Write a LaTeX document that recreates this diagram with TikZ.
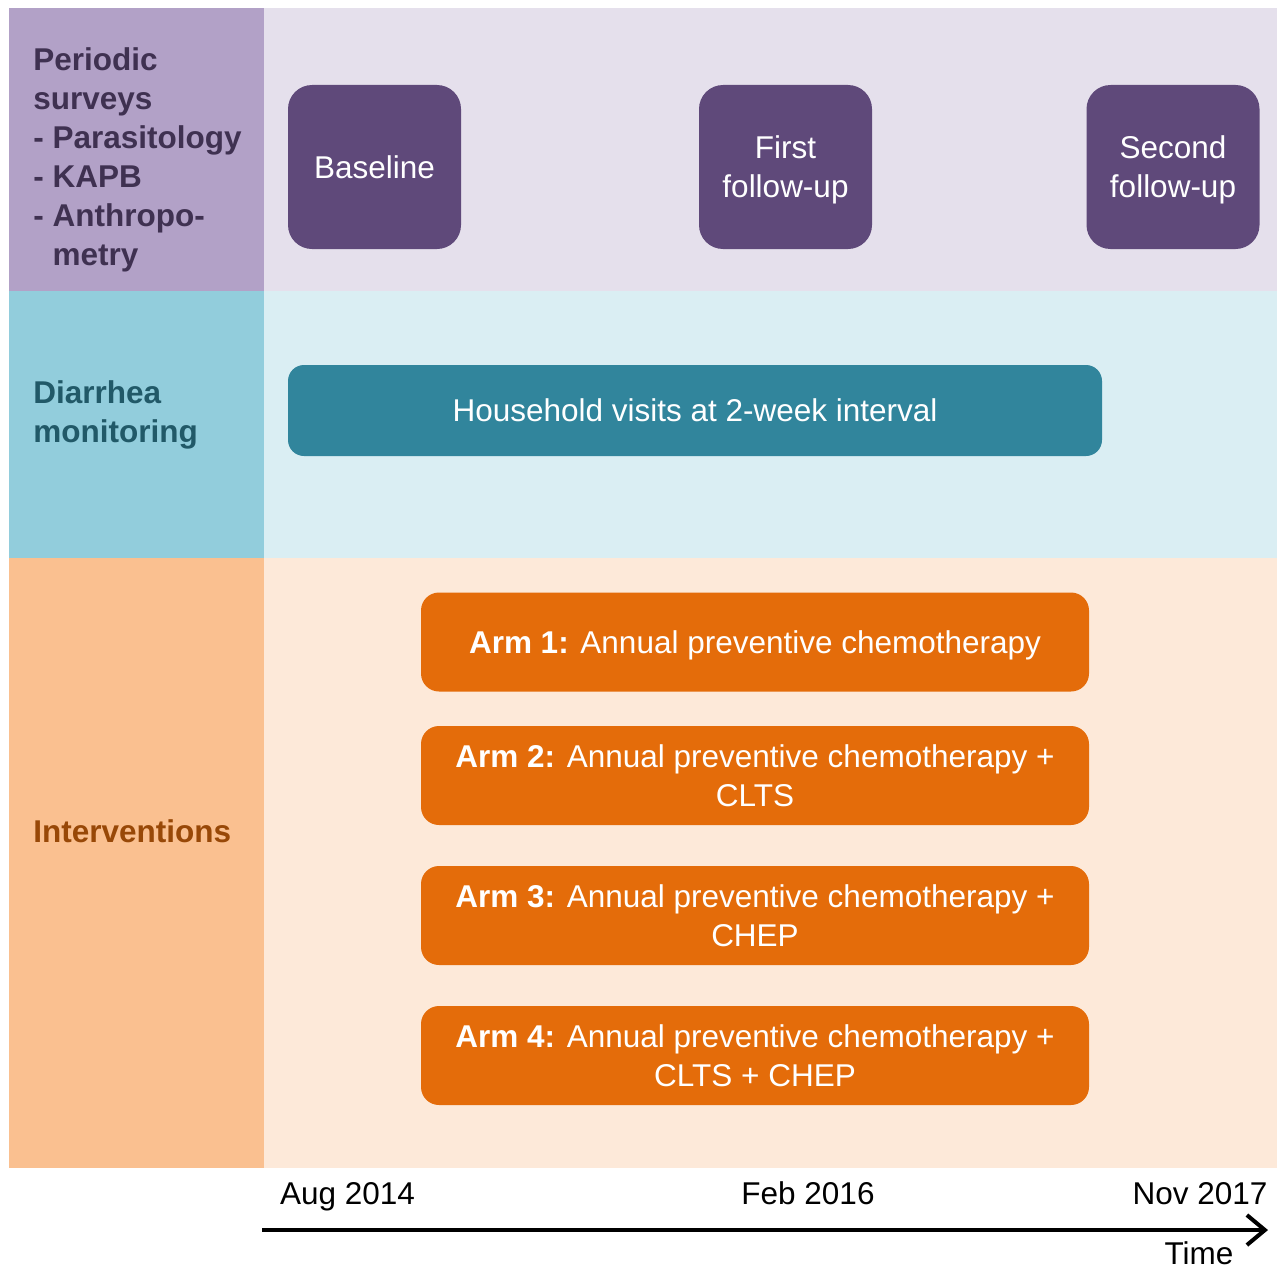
\documentclass[tikz,border=0pt]{standalone}
\usepackage{fontspec}
\setmainfont{Liberation Sans}
\usepackage{tikz}
\usetikzlibrary{arrows.meta, positioning}

\definecolor{surveyside}{HTML}{B2A1C7}
\definecolor{surveyback}{HTML}{E5E0EC}
\definecolor{surveybox}{HTML}{5F497A}
\definecolor{surveytext}{HTML}{3F3151}
\definecolor{diarside}{HTML}{92CDDC}
\definecolor{diarback}{HTML}{DAEEF3}
\definecolor{diarbox}{HTML}{31859C}
\definecolor{diartext}{HTML}{215968}
\definecolor{armside}{HTML}{FAC090}
\definecolor{armback}{HTML}{FDE9D9}
\definecolor{armbox}{HTML}{E46C0A}
\definecolor{armtext}{HTML}{984807}

\begin{document}
\begin{tikzpicture}[x=0.5pt, y=-0.5pt,
    font=\fontsize{15.75}{19.5}\selectfont,
    sidelabel/.style={anchor=west, align=left, inner sep=0pt, font=\fontsize{15.75}{19.5}\selectfont\bfseries},
    survey/.style={fill=surveybox, text=white, rounded corners=12pt, align=center, text depth=0pt,
        minimum width=86.5pt, minimum height=82pt, inner sep=0pt},
    visits/.style={fill=diarbox, text=white, rounded corners=8pt,
        minimum width=407pt, minimum height=45.5pt, inner sep=0pt},
    arm/.style={fill=armbox, text=white, rounded corners=9pt, align=center, text depth=0pt,
        minimum width=334pt, minimum height=49.5pt, inner sep=0pt},
    datelabel/.style={inner sep=0pt, anchor=base}
]
    \useasboundingbox[fill=white] (0, 0) rectangle (1277, 1268);

    \fill[surveyside] (9, 8) rectangle (264, 291);
    \fill[surveyback] (264, 8) rectangle (1277, 291);
    \fill[diarside] (9, 291) rectangle (264, 558);
    \fill[diarback] (264, 291) rectangle (1277, 558);
    \fill[armside] (9, 558) rectangle (264, 1168);
    \fill[armback] (264, 558) rectangle (1277, 1168);

    \node[sidelabel, text=surveytext] (surveys) at (33, 160)
        {Periodic\\surveys\\- Parasitology\\- KAPB\\- Anthropo-\\\hphantom{- }metry};
    \node[sidelabel, text=diartext] (monitoring) at (33, 414.5) {Diarrhea\\monitoring};
    \node[sidelabel, text=armtext] (interventions) at (33, 831) {Interventions};

    \node[survey] (baseline) at (374.5, 167) {Baseline};
    \node[survey] (first) at (785.5, 167) {First\\follow-up};
    \node[survey] (second) at (1173, 167) {Second\\follow-up};

    \node[visits] (visits) at (695, 410.5) {Household visits at 2-week interval};

    \node[arm] (arm1) at (755, 642) {\textbf{Arm 1:} Annual preventive chemotherapy};
    \node[arm] (arm2) at (755, 775.5) {\textbf{Arm 2:} Annual preventive chemotherapy +\\CLTS};
    \node[arm] (arm3) at (755, 915.5) {\textbf{Arm 3:} Annual preventive chemotherapy +\\CHEP};
    \node[arm] (arm4) at (755, 1055.5) {\textbf{Arm 4:} Annual preventive chemotherapy +\\CLTS + CHEP};

    \node[datelabel] (aug) at (347.5, 1204) {Aug 2014};
    \node[datelabel] (feb) at (808, 1204) {Feb 2016};
    \node[datelabel] (nov) at (1200, 1204) {Nov 2017};

    \coordinate (start) at (262, 1230);
    \coordinate (end) at (1268, 1230);
    \draw[line width=2pt, -{Straight Barb[length=9pt, width=15pt, line width=2pt]}] (start) -- (end);
    \node[datelabel] (time) at (1199, 1264) {Time};
\end{tikzpicture}
\end{document}
